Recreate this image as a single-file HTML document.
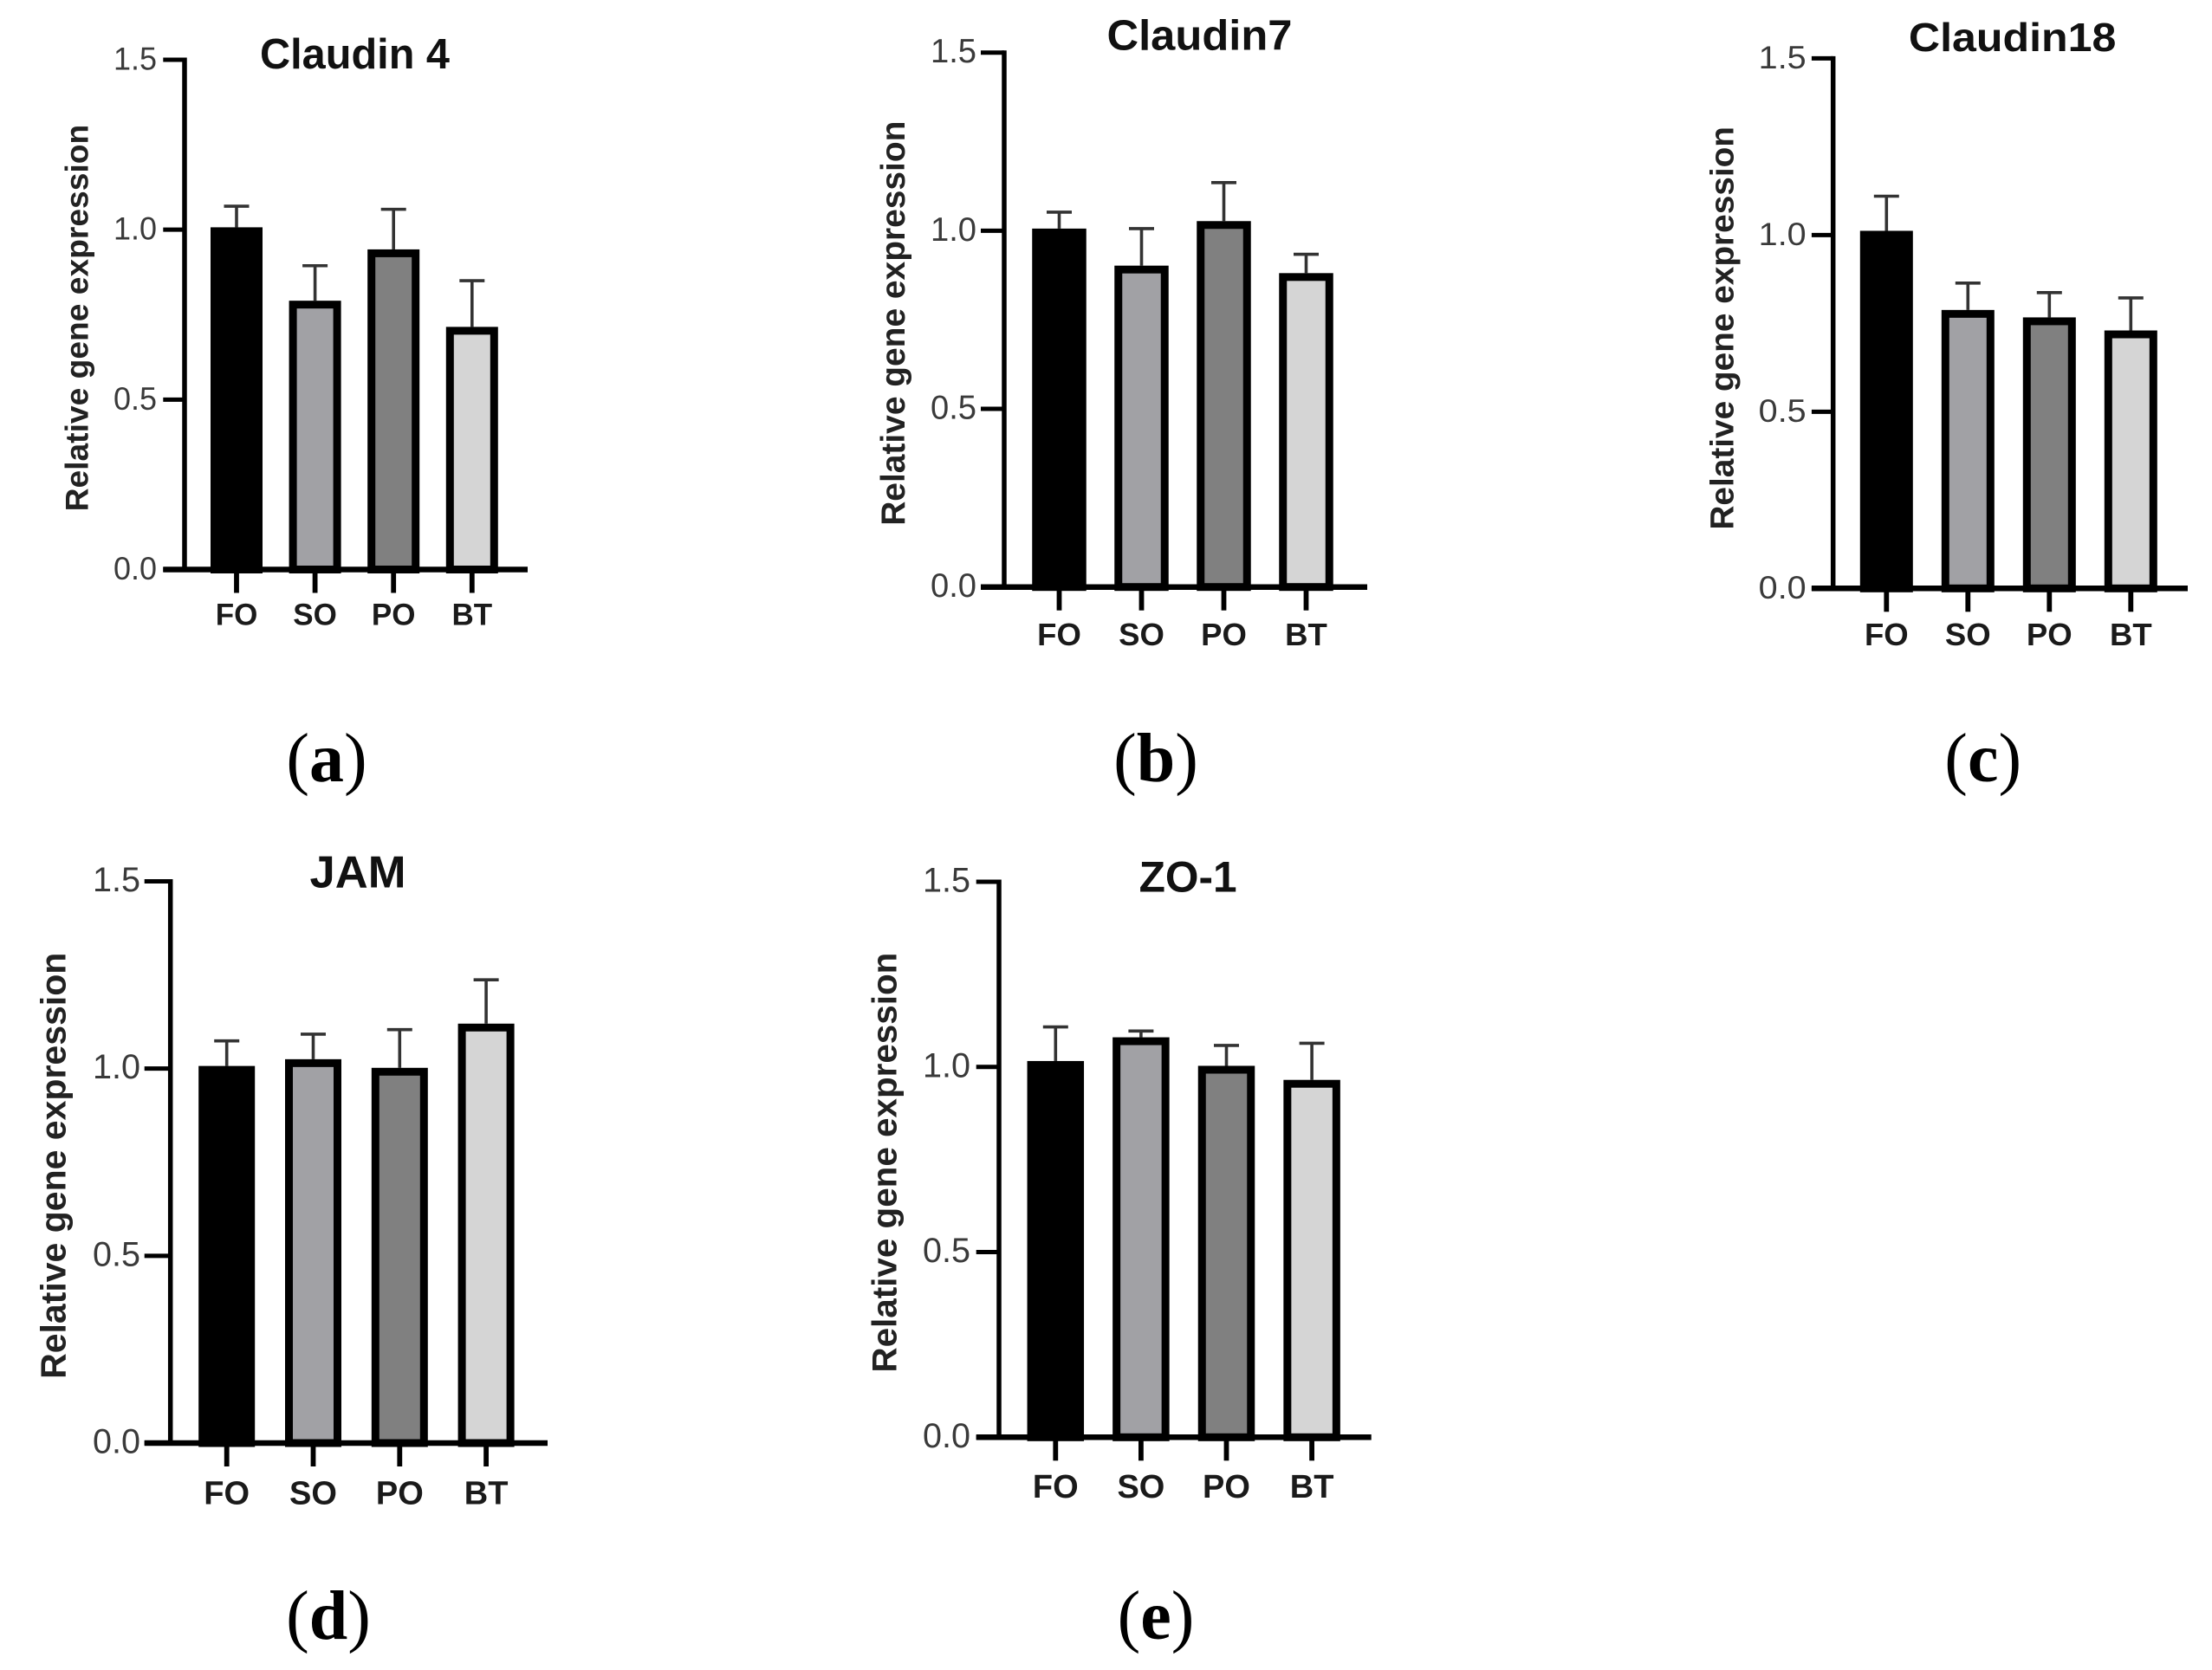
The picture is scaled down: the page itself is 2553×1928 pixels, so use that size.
<!DOCTYPE html>
<html lang="en">
<head>
<meta charset="utf-8">
<title>Relative gene expression of tight junction proteins</title>
<style>
  html, body { margin: 0; padding: 0; background: #fff; }
  #figure { display: block; width: 2553px; height: 1928px; }
  text { font-family: "Liberation Sans", Arial, sans-serif; }
  .caption { font-family: "Liberation Serif", "Times New Roman", serif; }
</style>
</head>
<body>
<svg id="figure" xmlns="http://www.w3.org/2000/svg" viewBox="0 0 2553 1928"></svg>
<script>
const categories = ["FO", "SO", "PO", "BT"];
const tickValues = [0, 0.5, 1, 1.5];
const tickLabels = ["0.0", "0.5", "1.0", "1.5"];
const yAxisTitle = "Relative gene expression";
const barFills = ["#000000", "#a1a1a5", "#808080", "#d5d5d5"];

const claudin4Means = [1.007, 0.791, 0.942, 0.714];
const claudin4Errors = [0.062, 0.103, 0.118, 0.136];
const claudin7Means = [1.006, 0.902, 1.027, 0.881];
const claudin7Errors = [0.046, 0.104, 0.108, 0.053];
const claudin18Means = [1.012, 0.788, 0.767, 0.73];
const claudin18Errors = [0.098, 0.076, 0.07, 0.092];
const jamMeans = [1.007, 1.025, 1.002, 1.12];
const jamErrors = [0.067, 0.067, 0.102, 0.117];
const zo1Means = [1.016, 1.08, 1.003, 0.965];
const zo1Errors = [0.092, 0.017, 0.055, 0.099];

const panels = [
  { key: "a", title: "Claudin 4", means: claudin4Means, errors: claudin4Errors,
    axisX: 213, tickLeft: 188.3, yTop: 69, yBase: 657.5, xEnd: 609, first: 273, step: 90.6, barW: 60,
    titleL: 300, titleB: 79, titleW: 219, titleFont: 49,
    yTitleB: 101.7, yTitleT: 143.8, yTitleE: 590.4, yTitleFont: 37,
    tickRight: 181, tickW: 50, tickFont: 37, catB: 721.7, catFont: 35,
    capX: 377, capB: 902, capText: "a" },
  { key: "b", title: "Claudin7", means: claudin7Means, errors: claudin7Errors,
    axisX: 1159, tickLeft: 1132, yTop: 60.7, yBase: 677.7, xEnd: 1578, first: 1222.5, step: 95, barW: 62.5,
    titleL: 1277.5, titleB: 57.6, titleW: 214, titleFont: 49,
    yTitleB: 1043.9, yTitleT: 139.6, yTitleE: 606.8, yTitleFont: 39,
    tickRight: 1127, tickW: 53, tickFont: 38.5, catB: 745, catFont: 36.5,
    capX: 1334, capB: 902, capText: "b" },
  { key: "c", title: "Claudin18", means: claudin18Means, errors: claudin18Errors,
    axisX: 2115.7, tickLeft: 2090.9, yTop: 67.4, yBase: 679.3, xEnd: 2525, first: 2177.3, step: 94, barW: 61,
    titleL: 2202.9, titleB: 59, titleW: 239.5, titleFont: 46,
    yTitleB: 2000.7, yTitleT: 146, yTitleE: 611.6, yTitleFont: 38,
    tickRight: 2084.7, tickW: 55, tickFont: 37, catB: 745, catFont: 36.5,
    capX: 2288.7, capB: 902, capText: "c" },
  { key: "d", title: "JAM", means: jamMeans, errors: jamErrors,
    axisX: 196.7, tickLeft: 166.7, yTop: 1017.5, yBase: 1666, xEnd: 632, first: 261.7, step: 99.8, barW: 65,
    titleL: 357.5, titleB: 1024.7, titleW: 111, titleFont: 52,
    yTitleB: 75.3, yTitleT: 1099.7, yTitleE: 1591.9, yTitleFont: 41,
    tickRight: 162, tickW: 55, tickFont: 39.5, catB: 1736.7, catFont: 38,
    capX: 379, capB: 1892, capText: "d" },
  { key: "e", title: "ZO-1", means: zo1Means, errors: zo1Errors,
    axisX: 1153, tickLeft: 1126.7, yTop: 1018, yBase: 1659.3, xEnd: 1582.7, first: 1218.3, step: 98.6, barW: 65.5,
    titleL: 1314.6, titleB: 1029.6, titleW: 113, titleFont: 49.6,
    yTitleB: 1034.6, yTitleT: 1099.7, yTitleE: 1584.6, yTitleFont: 40,
    tickRight: 1120, tickW: 55, tickFont: 39.5, catB: 1729, catFont: 38,
    capX: 1334, capB: 1892, capText: "e" }
];

const svgNs = "http://www.w3.org/2000/svg";
const figure = document.getElementById("figure");
const BAR_STROKE = 9;
const Y_AXIS_STROKE = 5.5;
const X_AXIS_STROKE = 6.5;
const Y_MAX = 1.5;

function make(tag, parent, attrs) {
  const el = document.createElementNS(svgNs, tag);
  for (const k in attrs) el.setAttribute(k, attrs[k]);
  parent.appendChild(el);
  return el;
}

function line(parent, x1, y1, x2, y2, w, color) {
  return make("line", parent, { x1, y1, x2, y2, stroke: color || "#000", "stroke-width": w });
}

panels.forEach(function (p) {
  const yScale = function (v) { return p.yBase - (v / Y_MAX) * (p.yBase - p.yTop); };
  const xScale = function (i) { return p.first + p.step * i; };

  const group = make("g", figure, {});
  
  

  const title = make("text", group, { x: p.titleL, y: p.titleB, "font-size": p.titleFont, "font-weight": "bold", fill: "#111", textLength: p.titleW, lengthAdjust: "spacingAndGlyphs" });
  title.textContent = p.title;
  
  

  const yTitle = make("text", group, { transform: "translate(" + p.yTitleB + "," + p.yTitleE + ") rotate(-90)", x: 0, y: 0, "font-size": p.yTitleFont, "font-weight": "bold", fill: "#222", textLength: p.yTitleE - p.yTitleT, lengthAdjust: "spacingAndGlyphs" });
  yTitle.textContent = yAxisTitle;
  
  

  p.means.forEach(function (m, i) {
    const cx = xScale(i);
    const top = yScale(m);
    const errTop = yScale(m + p.errors[i]);

    const stem = line(group, cx, top, cx, errTop, 3.6, "#333");
    
    

    const cap = line(group, cx - 14.5, errTop, cx + 14.5, errTop, 3.6, "#333");
    
    

    const bar = make("rect", group, {
      x: cx - p.barW / 2 + BAR_STROKE / 2,
      y: top + BAR_STROKE / 2,
      width: p.barW - BAR_STROKE,
      height: p.yBase - top - BAR_STROKE / 2,
      fill: barFills[i], stroke: "#000", "stroke-width": BAR_STROKE
    });
    
    

    const xTick = line(group, cx, p.yBase, cx, p.yBase + 27, 5.8);
    
    

    const cat = make("text", group, { x: cx, y: p.catB, "text-anchor": "middle", "font-size": p.catFont, "font-weight": "bold", fill: "#1a1a1a" });
    cat.textContent = categories[i];
    
    
  });

  const yAxis = line(group, p.axisX, p.yTop - 2.5, p.axisX, p.yBase, Y_AXIS_STROKE);
  
  

  const xAxis = line(group, p.tickLeft, p.yBase, p.xEnd, p.yBase, X_AXIS_STROKE);
  
  

  tickValues.forEach(function (v, i) {
    const y = yScale(v);
    const tick = line(group, p.tickLeft, y, p.axisX, y, 5);
    
    

    const label = make("text", group, { x: p.tickRight - p.tickW, y: y + 11.5, "font-size": p.tickFont, fill: "#3a3a3a", textLength: p.tickW, lengthAdjust: "spacingAndGlyphs" });
    label.textContent = tickLabels[i];
    
    
  });

  const caption = make("text", group, { x: p.capX, y: p.capB, "text-anchor": "middle", "font-size": 80, fill: "#000", class: "caption" });
  
  
  const open = make("tspan", caption, {});
  open.textContent = "(";
  const letter = make("tspan", caption, { "font-weight": "bold" });
  letter.textContent = p.capText;
  const close = make("tspan", caption, {});
  close.textContent = ")";
});
</script>
</body>
</html>
